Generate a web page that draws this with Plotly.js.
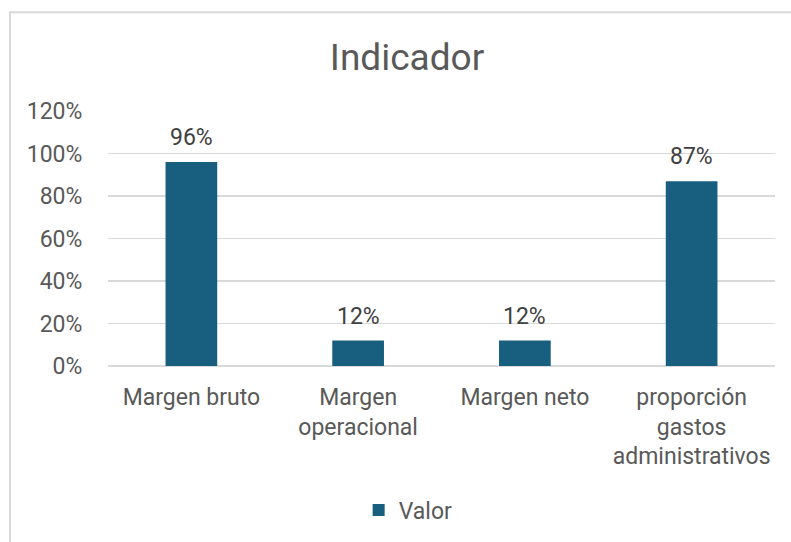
<!DOCTYPE html>
<html>
<head>
<meta charset="utf-8">
<script src="https://cdn.plot.ly/plotly-3.0.1.min.js"></script>
<style>
html,body{margin:0;padding:0;background:#fff;}
#chart{width:791px;height:542px;}
</style>
</head>
<body>
<div id="chart"></div>
<script>
const categories = ["Margen bruto", "Margen<br>operacional", "Margen neto", "proporción<br>gastos<br>administrativos"];
const values = [0.96, 0.12, 0.12, 0.87];
const seriesName = "Valor";
const yTickVals = [0, 0.2, 0.4, 0.6, 0.8, 1.0, 1.2];
const yTickText = ["0%", "20%", "40%", "60%", "80%", "100%", "120%"];
const labelText = values.map(v => Math.round(v * 100) + "%");

const FONT = "Roboto, 'Open Sans', sans-serif";
const GREY = "#595959";
const GRID = "#d9d9d9";
const BAR = "#175E7F";

const trace = {
  type: "bar",
  x: categories,
  y: values,
  name: seriesName,
  marker: {color: BAR},
  width: 0.31,
  showlegend: true,
  hoverinfo: "x+y"
};

const annotations = categories.map((c, i) => ({
  x: c, y: values[i], xref: "x", yref: "y",
  text: labelText[i], showarrow: false,
  yanchor: "bottom", yshift: 9,
  font: {family: FONT, size: 23, color: "#404040"}
}));

const layout = {
  width: 791, height: 542,
  margin: {l: 108, r: 16, t: 111, b: 175},
  paper_bgcolor: "#fff", plot_bgcolor: "#fff",
  font: {family: FONT, color: GREY, size: 22},
  title: {text: "Indicador", font: {family: FONT, size: 37, color: GREY},
          x: 0.5146, xanchor: "center", xref: "container", y: 0.895, yanchor: "middle", yref: "container"},
  xaxis: {
    type: "category",
    showgrid: false, zeroline: false, showline: false,
    ticks: "outside", ticklen: 10, tickcolor: "rgba(0,0,0,0)",
    tickfont: {family: FONT, size: 23, color: GREY},
    tickangle: 0,
    fixedrange: true
  },
  yaxis: {
    range: [0, 1.2],
    tickvals: yTickVals, ticktext: yTickText,
    showgrid: true, gridcolor: GRID, gridwidth: 1.5,
    zeroline: true, zerolinecolor: GRID, zerolinewidth: 1.5,
    showline: false,
    ticks: "outside", ticklen: 20, tickcolor: "rgba(0,0,0,0)",
    tickfont: {family: FONT, size: 23, color: GREY},
    fixedrange: true
  },
  legend: {
    orientation: "h", x: 0.45, xanchor: "center", y: -0.559, yanchor: "middle",
    font: {family: FONT, size: 23, color: GREY},
    itemwidth: 30
  },
  annotations: annotations,
  shapes: [{
    type: "rect", xref: "paper", yref: "paper",
    x0: -0.147, x1: 1.2, y0: -1.0, y1: 1.387,
    line: {color: GRID, width: 2}, fillcolor: "rgba(0,0,0,0)", layer: "below"
  }],
  bargap: 0.69
};

Plotly.newPlot("chart", [trace], layout, {displayModeBar: false, staticPlot: true});
</script>
</body>
</html>
